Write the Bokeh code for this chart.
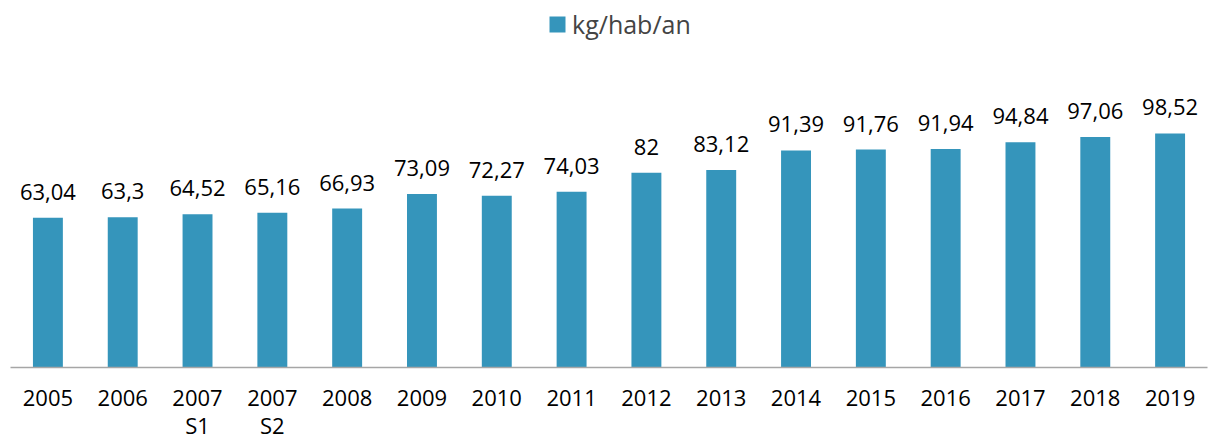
from bokeh.plotting import figure
from bokeh.models import ColumnDataSource, Legend, LegendItem, Range1d
from bokeh.core.properties import value
from bokeh.embed import file_html
from bokeh.resources import INLINE

categories = ["2005", "2006", "2007\nS1", "2007\nS2", "2008", "2009", "2010", "2011",
              "2012", "2013", "2014", "2015", "2016", "2017", "2018", "2019"]
values = [63.04, 63.3, 64.52, 65.16, 66.93, 73.09, 72.27, 74.03,
          82, 83.12, 91.39, 91.76, 91.94, 94.84, 97.06, 98.52]
series_name = "kg/hab/an"
labels = [f"{v:g}".replace(".", ",") for v in values]

FONT = "Open Sans"
BAR = "#3595BB"

src = ColumnDataSource(dict(x=categories, top=values, label=labels))

p = figure(x_range=categories, y_range=Range1d(0, 154.5), width=1211, height=443,
           output_backend="svg", toolbar_location=None,
           min_border_left=10, min_border_right=4, min_border_top=0, min_border_bottom=76)
p.outline_line_color = None
p.background_fill_color = "white"
p.border_fill_color = "white"
p.grid.visible = False

r = p.vbar(x="x", top="top", width=0.4, source=src, fill_color=BAR, line_color=None)
p.text(x="x", y="top", text="label", source=src, text_align="center", text_baseline="alphabetic",
       y_offset=-26, text_font=value(FONT), text_font_size="22px", text_color="#000000")

p.yaxis.visible = False
ax = p.xaxis[0]
ax.axis_line_color = "#A6A6A6"
ax.axis_line_width = 1.5
ax.major_tick_line_color = None
ax.minor_tick_line_color = None
ax.major_label_text_font = FONT
ax.major_label_text_font_size = "22px"
ax.major_label_text_color = "#000000"
ax.major_label_text_line_height = 0.95
ax.major_label_standoff = 8

legend = Legend(items=[LegendItem(label=series_name, renderers=[r])],
                location=(537, 326), orientation="horizontal",
                border_line_color=None, background_fill_alpha=0,
                label_text_font=FONT, label_text_font_size="25px",
                glyph_width=20, glyph_height=20, margin=0, padding=0, spacing=0,
                label_standoff=5)
p.add_layout(legend)

open("out.html", "w").write(file_html(p, INLINE))
